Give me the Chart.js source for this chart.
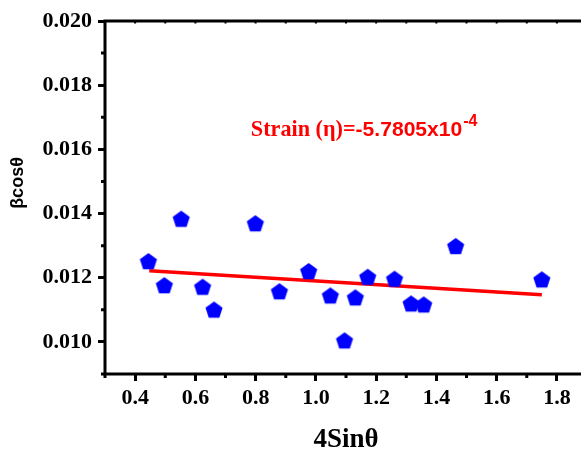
<!DOCTYPE html>
<html><head><meta charset="utf-8">
<script src="https://cdn.jsdelivr.net/npm/chart.js@4.4.1/dist/chart.umd.min.js"></script>
<style>html,body{margin:0;padding:0;background:#fff;overflow:hidden}#wrap{width:581px;height:450px;position:relative}</style>
</head><body><div id="wrap"><canvas id="c" width="581" height="450"></canvas></div>
<script>
// ---- data ----
const xValues = [0.444, 0.497, 0.553, 0.624, 0.662, 0.799, 0.879, 0.976, 1.048, 1.095, 1.131, 1.172, 1.261, 1.316, 1.358, 1.464, 1.750];
const yValues = [0.01249, 0.01174, 0.01381, 0.01169, 0.01098, 0.01367, 0.01155, 0.01218, 0.01142, 0.01002, 0.01136, 0.01200, 0.01194, 0.01117, 0.01114, 0.01296, 0.01192];
const fitX = [0.447, 1.750];
const fitY = [0.01222, 0.01147];
const xTickValues = [0.4, 0.6, 0.8, 1.0, 1.2, 1.4, 1.6, 1.8];
const xMinorValues = [0.3, 0.5, 0.7, 0.9, 1.1, 1.3, 1.5, 1.7];
const yTickValues = [0.010, 0.012, 0.014, 0.016, 0.018, 0.020];
const yMinorValues = [0.009, 0.011, 0.013, 0.015, 0.017, 0.019];
const xTitle = '4Sinθ';
const yTitle = 'βcosθ';
const noteLabel = 'Strain (η)=';
const noteValue = '-5.7805x10';
const noteExp = '-4';
const notePos = {x: 0.784, y: 0.016416};

// pentagon marker
function pentagon(r, color) {
  const s = Math.ceil(2 * r + 2);
  const cv = document.createElement('canvas');
  cv.width = s; cv.height = s;
  const g = cv.getContext('2d');
  g.fillStyle = color;
  g.beginPath();
  for (let i = 0; i < 5; i++) {
    const a = -Math.PI / 2 + i * 2 * Math.PI / 5;
    const px = s / 2 + r * Math.cos(a), py = s / 2 + r * Math.sin(a);
    if (i === 0) g.moveTo(px, py); else g.lineTo(px, py);
  }
  g.closePath(); g.fill();
  return cv;
}
const marker = pentagon(9, '#0000ff');

const SERIF = '"Liberation Serif", "Times New Roman", serif';
const SANS = '"Liberation Sans", Arial, sans-serif';

function fitFont(ctx, text, weightFamily, baseSize, targetW) {
  ctx.font = 'bold ' + baseSize + 'px ' + weightFamily;
  const w = ctx.measureText(text).width;
  const size = Math.min(baseSize * 1.3, Math.max(baseSize * 0.8, baseSize * targetW / w));
  ctx.font = 'bold ' + size.toFixed(1) + 'px ' + weightFamily;
}

const framePlugin = {
  id: 'frame',
  afterDraw(chart) {
    const ctx = chart.ctx, a = chart.chartArea;
    const xs = chart.scales.x, ys = chart.scales.y;
    ctx.save();
    ctx.strokeStyle = '#000';
    ctx.lineWidth = 3;
    ctx.lineCap = 'square';
    ctx.beginPath();
    ctx.moveTo(a.left, a.top); ctx.lineTo(a.left, a.bottom); ctx.lineTo(a.right + 2, a.bottom);
    ctx.moveTo(a.left, a.top); ctx.lineTo(a.right + 2, a.top);
    ctx.stroke();
    ctx.lineCap = 'butt';
    ctx.lineWidth = 3;
    ctx.beginPath();
    xMinorValues.forEach(v => { const p = xs.getPixelForValue(v); ctx.moveTo(p, a.bottom); ctx.lineTo(p, a.bottom + 4); });
    yMinorValues.forEach(v => { const p = ys.getPixelForValue(v); ctx.moveTo(a.left, p); ctx.lineTo(a.left - 4, p); });
    ctx.stroke();
    ctx.lineWidth = 2;
    ctx.beginPath();
    xTickValues.concat(xMinorValues).forEach(v => { const p = xs.getPixelForValue(v); ctx.moveTo(p, a.top); ctx.lineTo(p, a.top + 2.5); });
    ctx.stroke();
    // titles
    ctx.fillStyle = '#000';
    ctx.font = 'bold 27px ' + SERIF;
    ctx.textAlign = 'center'; ctx.textBaseline = 'alphabetic';
    ctx.fillText(xTitle, (a.left + a.right) / 2 + 3, a.bottom + 73);
    ctx.save();
    ctx.translate(23, a.top + 162);
    ctx.rotate(-Math.PI / 2);
    ctx.font = 'bold 18px ' + SANS;
    ctx.fillText(yTitle, 0, 0);
    ctx.restore();
    // annotation
    const nx = xs.getPixelForValue(notePos.x), ny = ys.getPixelForValue(notePos.y);
    ctx.fillStyle = '#ff0000';
    ctx.textAlign = 'left';
    fitFont(ctx, noteLabel, SERIF, 21, 105);
    ctx.fillText(noteLabel, nx, ny);
    let w = ctx.measureText(noteLabel).width;
    fitFont(ctx, noteValue, SANS, 20, 107);
    ctx.fillText(noteValue, nx + w, ny);
    w += ctx.measureText(noteValue).width;
    ctx.font = 'bold 16px ' + SANS;
    ctx.fillText(noteExp, nx + w + 1, ny - 10);
    ctx.restore();
  }
};

new Chart(document.getElementById('c'), {
  data: {
    datasets: [
      {
        type: 'scatter',
        data: xValues.map((x, i) => ({x: x, y: yValues[i]})),
        pointStyle: marker,
        pointRadius: 9,
        order: 0
      },
      {
        type: 'line',
        data: fitX.map((x, i) => ({x: x, y: fitY[i]})),
        borderColor: '#ff0000',
        borderWidth: 3.5,
        pointRadius: 0,
        fill: false,
        order: 1
      }
    ]
  },
  options: {
    responsive: false,
    devicePixelRatio: 1,
    animation: false,
    events: [],
    layout: {autoPadding: false, padding: {top: 21, left: 0, right: 0, bottom: 0}},
    plugins: {legend: {display: false}, tooltip: {enabled: false}},
    scales: {
      x: {
        type: 'linear', min: 0.3, max: 1.88,
        afterBuildTicks: s => { s.ticks = xTickValues.map(v => ({value: v})); },
        afterFit: s => { s.height = 76; s.paddingLeft = 0; s.paddingRight = 0; },
        border: {display: false},
        grid: {drawOnChartArea: false, drawTicks: true, tickLength: 7, lineWidth: 3, color: '#000'},
        ticks: {
          font: {family: SERIF, size: 22, weight: 'bold'}, color: '#000', padding: 4, maxRotation: 0,
          callback: v => v.toFixed(1)
        }
      },
      y: {
        type: 'linear', min: 0.009, max: 0.020,
        afterBuildTicks: s => { s.ticks = yTickValues.map(v => ({value: v})); },
        afterFit: s => { s.width = 105; s.paddingTop = 0; s.paddingBottom = 0; },
        border: {display: false},
        grid: {drawOnChartArea: false, drawTicks: true, tickLength: 7, lineWidth: 3, color: '#000'},
        ticks: {
          font: {family: SERIF, size: 22, weight: 'bold'}, color: '#000', padding: 6,
          callback: v => v.toFixed(3)
        }
      }
    }
  },
  plugins: [framePlugin]
});
</script>
</body></html>
